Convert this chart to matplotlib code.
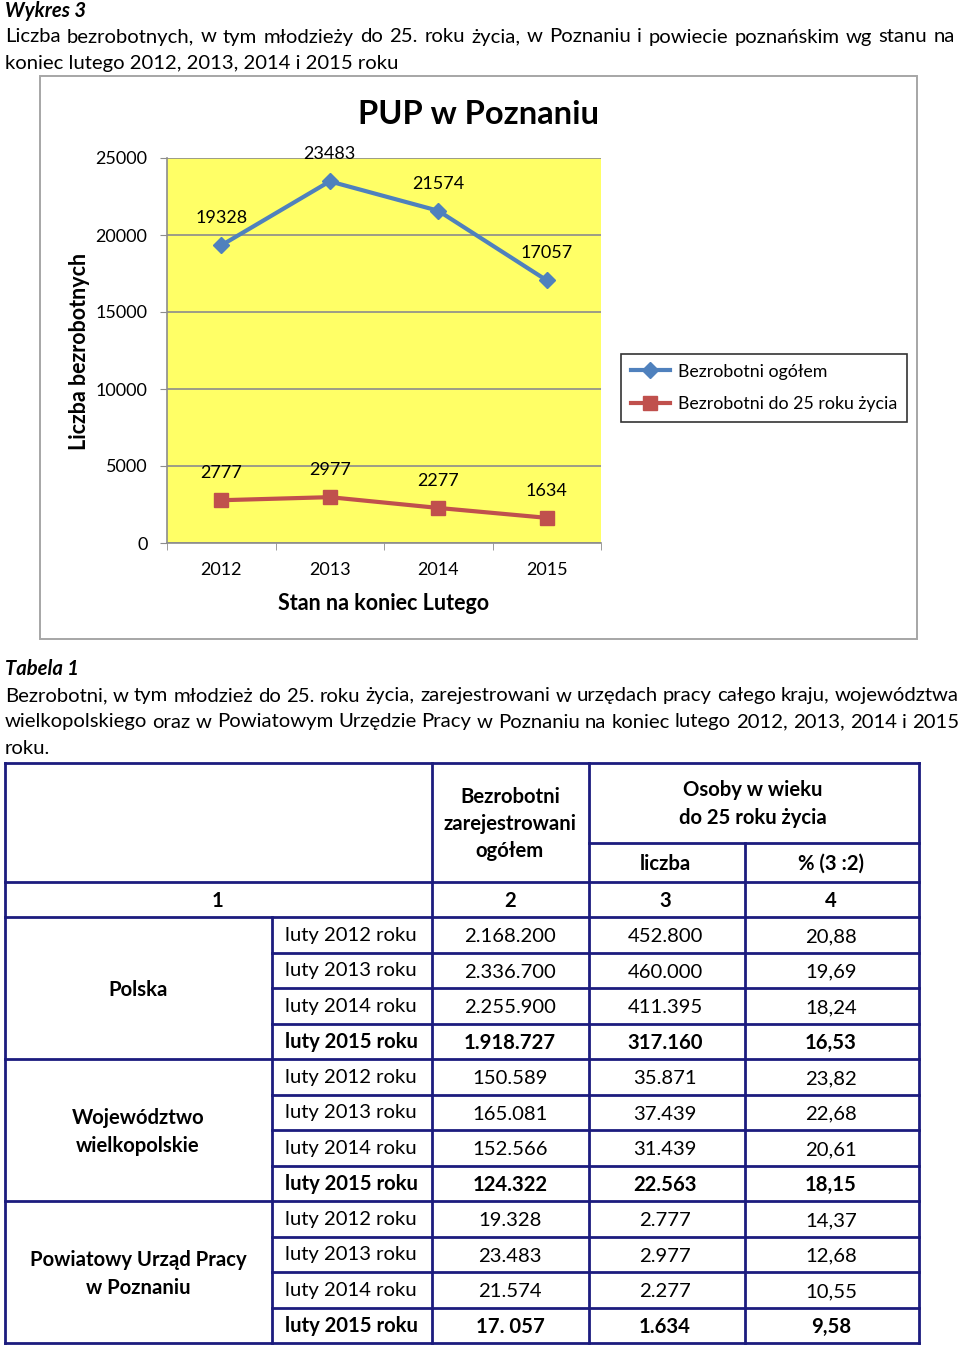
#!/usr/bin/env python3

import matplotlib
matplotlib.use("Agg")
import matplotlib.pyplot as plt
from matplotlib.patches import Rectangle

plt.rcParams['font.family'] = ['Lato', 'DejaVu Sans']

# chart data
years = ['2012', '2013', '2014', '2015']
total = [19328, 23483, 21574, 17057]
youth = [2777, 2977, 2277, 1634]

# table data
groups = ['Polska', 'Województwo\nwielkopolskie', 'Powiatowy Urząd Pracy\nw Poznaniu']
periods = ['luty 2012 roku', 'luty 2013 roku', 'luty 2014 roku', 'luty 2015 roku']
col2 = ['2.168.200', '2.336.700', '2.255.900', '1.918.727',
        '150.589', '165.081', '152.566', '124.322',
        '19.328', '23.483', '21.574', '17. 057']
col3 = ['452.800', '460.000', '411.395', '317.160',
        '35.871', '37.439', '31.439', '22.563',
        '2.777', '2.977', '2.277', '1.634']
col4 = ['20,88', '19,69', '18,24', '16,53',
        '23,82', '22,68', '20,61', '18,15',
        '14,37', '12,68', '10,55', '9,58']

title1 = 'Liczba bezrobotnych, w tym młodzieży do 25. roku życia, w Poznaniu i powiecie poznańskim wg stanu na'
title2 = 'koniec lutego 2012, 2013, 2014 i 2015 roku'
para1 = 'Bezrobotni, w tym młodzież do 25. roku życia, zarejestrowani w urzędach pracy całego kraju, województwa'
para2 = 'wielkopolskiego oraz w Powiatowym Urzędzie Pracy w Poznaniu na koniec lutego 2012, 2013, 2014 i 2015'
para3 = 'roku.'

W, H = 960, 1351
fig = plt.figure(figsize=(W / 100, H / 100), dpi=100)

# page overlay in pixel coordinates
pg = fig.add_axes([0, 0, 1, 1])
pg.set_xlim(0, W)
pg.set_ylim(H, 0)
pg.axis('off')

BLUE = '#4F81BD'
RED = '#C0504D'
NAVY = '#1C1C7E'
FS = 14.6


def justified(words_line, y, x0, x1, fs=FS):
    words = words_line.split(' ')
    texts = [pg.text(0, y, w, fontsize=fs, va='center', ha='left') for w in words]
    r = fig.canvas.get_renderer()
    widths = [t.get_window_extent(r).width for t in texts]
    gap = (x1 - x0 - sum(widths)) / (len(words) - 1)
    x = x0
    for t, w in zip(texts, widths):
        t.set_x(x)
        x += w + gap


pg.text(5, 11, 'Wykres 3', fontsize=FS, fontweight='bold', fontstyle='italic', va='center')
justified(title1, 37, 5, 955)
pg.text(5, 63, title2, fontsize=FS, va='center')

# chart frame
pg.add_patch(Rectangle((40, 76), 877, 563, fill=False, edgecolor='#A6A6A6', lw=1.4))
pg.text(478, 114, 'PUP w Poznaniu', fontsize=23.5, fontweight='bold', ha='center', va='center')
pg.text(80, 351, 'Liczba bezrobotnych', fontsize=15.5, fontweight='bold', rotation=90,
        ha='center', va='center')
pg.text(384, 603, 'Stan na koniec Lutego', fontsize=15.5, fontweight='bold', ha='center', va='center')

ax = fig.add_axes([167 / W, 1 - 543 / H, (601 - 167) / W, (543 - 158) / H])
ax.set_facecolor('#FFFF66')
x = list(range(len(years)))
l1, = ax.plot(x, total, color=BLUE, lw=3, marker='D', markersize=8.5, label='Bezrobotni ogółem')
l2, = ax.plot(x, youth, color=RED, lw=3, marker='s', markersize=10,
              label='Bezrobotni do 25 roku życia')
for xi, v in zip(x, total):
    ax.annotate(str(v), (xi, v), xytext=(0, 19.5), textcoords='offset points',
                ha='center', va='center', fontsize=13)
for xi, v in zip(x, youth):
    ax.annotate(str(v), (xi, v), xytext=(0, 19.5), textcoords='offset points',
                ha='center', va='center', fontsize=13)
ax.set_xlim(-0.5, 3.5)
ax.set_ylim(0, 25000)
ax.set_yticks(range(0, 25001, 5000))
ax.yaxis.grid(True, color='#8C8C8C', lw=1.2)
ax.set_axisbelow(True)
ax.set_xticks(x)
ax.set_xticklabels(years)
ax.set_xticks([-0.5, 0.5, 1.5, 2.5, 3.5], minor=True)
ax.tick_params(axis='x', which='major', length=0, pad=14, labelsize=13)
ax.tick_params(axis='x', which='minor', length=5, color='#8C8C8C', direction='out')
ax.tick_params(axis='y', length=5, color='#8C8C8C', pad=9, labelsize=13)
for s in ['top', 'right']:
    ax.spines[s].set_visible(False)
for s in ['left', 'bottom']:
    ax.spines[s].set_color('#8C8C8C')
    ax.spines[s].set_linewidth(1.2)

leg = fig.legend(handles=[l1, l2], loc='center', bbox_to_anchor=(764 / W, 1 - 388 / H),
                 fontsize=12.8, frameon=True, fancybox=False, edgecolor='black',
                 handlelength=2.2, borderpad=0.55, labelspacing=0.95, handletextpad=0.45)
leg.get_frame().set_linewidth(1.2)

# table caption
pg.text(5, 669, 'Tabela 1', fontsize=FS, fontweight='bold', fontstyle='italic', va='center')
justified(para1, 696, 5, 959)
justified(para2, 722, 5, 959)
pg.text(5, 749, para3, fontsize=FS, va='center')

# table grid
LW = 2.0
row_y = [917 + i * (1343 - 917) / 12 for i in range(13)]


def hline(y, xa, xb):
    pg.plot([xa, xb], [y, y], color=NAVY, lw=LW, solid_capstyle='projecting')


def vline(xv, ya, yb):
    pg.plot([xv, xv], [ya, yb], color=NAVY, lw=LW, solid_capstyle='projecting')


hline(763, 5, 919)
hline(1343, 5, 919)
hline(882, 5, 919)
hline(917, 5, 919)
hline(843, 589, 919)
for i, y in enumerate(row_y[1:-1], start=1):
    if i % 4 == 0:
        hline(y, 5, 919)
    else:
        hline(y, 272, 919)
vline(5, 763, 1343)
vline(919, 763, 1343)
vline(432, 763, 1343)
vline(589, 763, 1343)
vline(745, 843, 1343)
vline(272, 917, 1343)

TFS = 14.6
LS = 1.45
pg.text(510, 824, 'Bezrobotni\nzarejestrowani\nogółem', fontsize=TFS, fontweight='bold',
        ha='center', va='center', linespacing=LS)
pg.text(753, 804, 'Osoby w wieku\ndo 25 roku życia', fontsize=TFS, fontweight='bold',
        ha='center', va='center', linespacing=LS)
pg.text(665, 864, 'liczba', fontsize=TFS, fontweight='bold', ha='center', va='center')
pg.text(831, 864, '% (3 :2)', fontsize=TFS, fontweight='bold', ha='center', va='center')
for xc, lab in zip([218, 510, 665, 831], ['1', '2', '3', '4']):
    pg.text(xc, 901, lab, fontsize=TFS, fontweight='bold', ha='center', va='center')

for g, name in enumerate(groups):
    yc = (row_y[g * 4] + row_y[g * 4 + 4]) / 2
    pg.text(138, yc + 2, name, fontsize=TFS, fontweight='bold', ha='center', va='center',
            linespacing=LS)

for i in range(12):
    yc = (row_y[i] + row_y[i + 1]) / 2
    wt = 'bold' if i % 4 == 3 else 'normal'
    pg.text(285, yc + 0.5, periods[i % 4], fontsize=TFS, fontweight=wt, ha='left', va='center')
    pg.text(510, yc + 2, col2[i], fontsize=TFS, fontweight=wt, ha='center', va='center')
    pg.text(665, yc + 2, col3[i], fontsize=TFS, fontweight=wt, ha='center', va='center')
    pg.text(831, yc + 2, col4[i], fontsize=TFS, fontweight=wt, ha='center', va='center')

fig.savefig('out.png', dpi=100)
